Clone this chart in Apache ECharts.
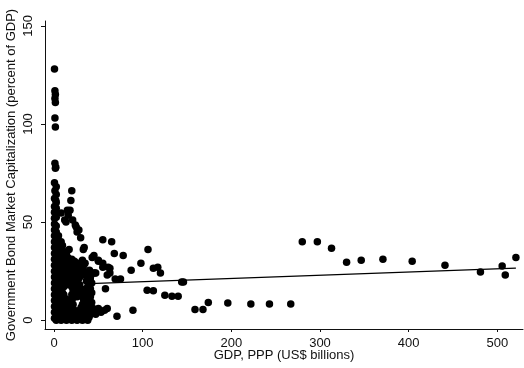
<!DOCTYPE html>
<html>
<head>
<meta charset="utf-8">
<script src="https://cdn.jsdelivr.net/npm/echarts@6/dist/echarts.min.js"></script>
<style>
html,body{margin:0;padding:0;background:#fff;}
#chart{width:524px;height:368px;}
</style>
</head>
<body>
<div id="chart"></div>
<script>
// GDP, PPP (US$ billions) and Government bond market capitalization (% of GDP)
// Dense cluster of small economies
var clusterPoints = [
  [0.5,1],[0.5,4],[0.5,7],[0.5,10],[0.5,13],[0.5,16],[0.5,19],[0.5,22],[0.5,25],[0.5,28],[0.5,31],[0.5,34],[0.5,37],[0.5,40],[0.5,43],[0.5,46],[0.5,49],[0.5,52],[0.5,55],[0.5,58],
  [2.5,0],[2.5,3],[2.5,6],[2.5,9],[2.5,12],[2.5,15],[2.5,18],[2.5,21],[2.5,24],[2.5,27],[2.5,30],[2.5,33],[2.5,36],[2.5,39],[2.5,42],[2.5,45],[2.5,48],[2.5,52.5],[2.5,57],[2.5,60],[2.5,64],[2.5,68],
  [5,1],[5,4],[5,7],[5,10],[5,13],[5,16],[5,19],[5,22],[5,25],[5,28],[5,31],[5,34],[5,37],[5,40],[5,43],
  [8,0],[8,3],[8,6],[8,9],[8,12],[8,15],[8,18],[8,21],[8,24],[8,27],[8,30],[8,33],[8,36],[8,40],[8,54.6],
  [9.5,2],[9.5,5],[9.5,8],[9.5,11],[9.5,14],[9.5,17],[9.5,20],[9.5,23],[9.5,26],[9.5,29],[9.5,32],[9.5,35],[9.5,38],
  [11,1],[11,4],[11,7],[11,10],[11,13],[11,17],[11,20],[11,23],[11,26],[11,29],[11,32],[11,35],
  [12.5,2],[12.5,5],[12.5,8],[12.5,11],[12.5,19],[12.5,22],[12.5,25],[12.5,28],[12.5,31],
  [14,0],[14,3],[14,6],[14,9],[14,18],[14,21],[14,24],[14,27],[14,30],[14,34],
  [15.5,1.5],[15.5,4.5],[15.5,7.5],[15.5,19.5],[15.5,22.5],[15.5,25.5],[15.5,28.5],[15.5,32],
  [17,1],[17,5],[17,8],[17,20],[17,23],[17,26],[17,29],[17,36],
  [18.5,2.5],[18.5,6.5],[18.5,10.5],[18.5,18.5],[18.5,22],[18.5,26],[18.5,30],
  [20,0],[20,3],[20,6],[20,10],[20,13],[20,17],[20,21],[20,25],[20,28],[20,31],
  [21.5,1.5],[21.5,4.5],[21.5,8],[21.5,11.5],[21.5,15],[21.5,19],[21.5,23],[21.5,27],[21.5,30],
  [23,2],[23,5],[23,12],[23,15],[23,19],[23,23],[23,27],[23,30],
  [24.5,0.5],[24.5,3.5],[24.5,13.5],[24.5,17],[24.5,21],[24.5,25],[24.5,28.5],
  [26,0],[26,12],[26,16],[26,20],[26,24],[26,29],
  [27.5,1],[27.5,4],[27.5,13],[27.5,17],[27.5,21],[27.5,25],[27.5,28],
  [29,2],[29,5],[29,14],[29,18],[29,22],[29,26],[29,29],
  [30.5,0.5],[30.5,3],[30.5,6.5],[30.5,12.5],[30.5,16],[30.5,24],[30.5,28],
  [32,0],[32,4],[32,8],[32,12],[32,23],[32,27],[32,30.6],
  [33.5,1.5],[33.5,5.5],[33.5,10],[33.5,25],[33.5,28],
  [35,2],[35,6],[35,10],[35,14],[35,29],
  [36.5,0.5],[36.5,4],[36.5,8],[36.5,12],[36.5,16],[36.5,20],
  [38,0],[38,4],[38,8],[38,13],[38,17],[38,21],
  [39.5,1.5],[39.5,5.5],[39.5,10],[39.5,14.5],[39.5,18.5],[39.5,23],
  [41,3],[41,7],[41,12],[41,16],[41,20],[41,22],
  [42.5,4.5],[42.5,9],[42.5,14],[42.5,19],
  [44,6],[44,24],[47,3],[47,24],[50,6],[50,30],[53,4],[57,5],[60,6],
  [43,32],[45,33],[55,29],[61,27],[63,24],[33,36],[34,37],[40,25.5]
];
// Upper tail of small economies
var upperPoints = [
  [0.5,128],[1,117],[1.5,115],[1,113],[1.5,111],[1,103],[1.5,98.5],[1,80],[2,78],[1.5,77.5],
  [0.5,70],[1,66],[0.5,62],[2,61],
  [12,51],[13.5,50],[16,53.5],[15,56],[18,56],[19,61],[20,66],[21,51],[24,48.5],[25,47.5],[26,45],[28,46],[30,42]
];
// Medium economies
var midPoints = [
  [55,41],[65,40],[68,34],[78,33],[106,36],[98,29],[87,25.5],[112,26.5],[117,27],[120,24],
  [144,19.5],[146,19.5],[105,15.3],[112,15],[125,12.7],[133,12.2],[140,12.2],[58,16],[69,21],[75,21],
  [89,5],[71,2],[55,27],[63,26.5],[60,23],[50,30.5],[46,24],[41,22]
];
// Large economies
var largePoints = [
  [159,5.5],[168,5.5],[174,9],[196,8.8],[222,8.2],[243,8.2],[267,8.2],
  [280,40],[297,40],[313,36.6],[330,29.5],[346.5,30.6],[371,31],[404,30],[441,28],
  [481,24.5],[505.5,27.6],[509,23],[521,32]
];
// Linear fit endpoints
var fitLine = [[40,18.65],[521,26.5]];
var xTicks = [0,100,200,300,400,500];
var yTicks = [0,50,100,150];

var chart = echarts.init(document.getElementById('chart'), null, {renderer:'canvas'});
var font = '"Liberation Sans", Arial, Helvetica, sans-serif';
var allPoints = clusterPoints.concat(upperPoints, midPoints, largePoints);
chart.setOption({
  animation:false,
  backgroundColor:'#fff',
  grid:{left:45, right:1, top:21, bottom:39, containLabel:false, outerBoundsMode:'none'},
  xAxis:{
    type:'value', min:-10.2, max:529,
    name:'GDP, PPP (US$ billions)', nameLocation:'middle', nameGap:20, nameMoveOverlap:false,
    nameTextStyle:{fontFamily:font, fontSize:13, color:'#111'},
    axisLine:{show:true, onZero:false, lineStyle:{color:'#111', width:1}},
    axisTick:{show:true, length:3, customValues:xTicks, lineStyle:{color:'#111'}},
    axisLabel:{show:true, customValues:xTicks, margin:8, fontFamily:font, fontSize:13, color:'#111'},
    splitLine:{show:false}
  },
  yAxis:{
    type:'value', min:-4.5, max:152.5,
    name:'Government Bond Market Capitalization (percent of GDP)', nameLocation:'middle', nameGap:27, nameRotate:90, nameMoveOverlap:false,
    nameTextStyle:{fontFamily:font, fontSize:13, color:'#111'},
    axisLine:{show:true, onZero:false, lineStyle:{color:'#111', width:1}},
    axisTick:{show:true, length:4, customValues:yTicks, lineStyle:{color:'#111'}},
    axisLabel:{show:true, customValues:yTicks, rotate:90, margin:10, fontFamily:font, fontSize:13, color:'#111'},
    splitLine:{show:false}
  },
  series:[
    {type:'scatter', data:allPoints, symbol:'circle', symbolSize:7.5, itemStyle:{color:'#000', opacity:1}, z:2},
    {type:'line', data:fitLine, showSymbol:false, lineStyle:{color:'#000', width:1.2}, z:3}
  ]
});
</script>
</body>
</html>
